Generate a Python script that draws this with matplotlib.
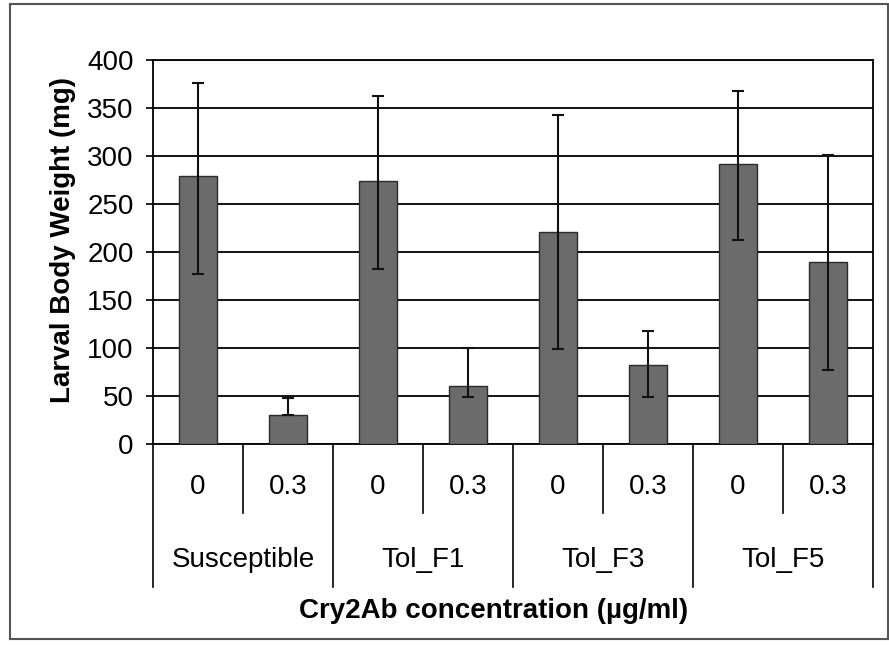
import matplotlib.pyplot as plt
from matplotlib.patches import Rectangle

plt.rcParams['font.family'] = ['Liberation Sans', 'DejaVu Sans']

# Data
groups = ['Susceptible', 'Tol_F1', 'Tol_F3', 'Tol_F5']
conc = ['0', '0.3']
weight = [279, 30, 274, 60, 221, 82, 292, 190]
err_low = [102, 0, 92, 11, 122, 33, 80, 113]
err_high = [97, 18, 89, 40, 122, 36, 76, 111]

fs = 20

fig = plt.figure(figsize=(8.89, 6.47), dpi=100)
fig.patches.append(Rectangle((10 / 889, 1 - 639 / 647), 878 / 889, 635 / 647,
                             transform=fig.transFigure, fill=False,
                             edgecolor='#555555', lw=1.5))
ax = fig.add_axes([153 / 889, 1 - 444 / 647, 720 / 889, 384 / 647])

x = list(range(len(weight)))
ax.bar(x, weight, width=0.42, color='#6b6b6b', edgecolor='#2a2a2a', lw=1, zorder=3)
ax.errorbar(x, weight, yerr=[err_low, err_high], fmt='none', ecolor='#111111',
            elinewidth=1.5, capsize=4.5, capthick=1.5, zorder=4)

ax.set_xlim(-0.5, len(weight) - 0.5)
ax.set_ylim(0, 400)
ax.set_yticks(range(0, 401, 50))
ax.tick_params(axis='y', labelsize=fs, length=5, width=1.2, direction='out', pad=9)
ax.set_xticks([])
ax.yaxis.grid(True, color='black', lw=1.3, zorder=0)
for s in ax.spines.values():
    s.set_linewidth(1.3)
ax.set_ylabel('Larval Body Weight (mg)', fontsize=fs, fontweight='bold')
ax.yaxis.set_label_coords(-0.107, 0.53)

# two-level category axis
tr = ax.get_xaxis_transform()
for i, v in enumerate(weight):
    ax.text(i, -0.112, conc[i % 2], transform=tr, ha='center', va='center', fontsize=fs)
for g, name in enumerate(groups):
    ax.text(2 * g + 0.5, -0.302, name, transform=tr, ha='center', va='center', fontsize=fs)
for k in range(len(weight) + 1):
    bottom = -0.372 if k % 2 == 0 else -0.18
    ax.plot([k - 0.5, k - 0.5], [0, bottom], transform=tr, color='black', lw=1.2, clip_on=False)
ax.text(3.28, -0.435, 'Cry2Ab concentration (µg/ml)', transform=tr, ha='center',
        va='center', fontsize=fs, fontweight='bold')

fig.savefig('out.png', dpi=100)
